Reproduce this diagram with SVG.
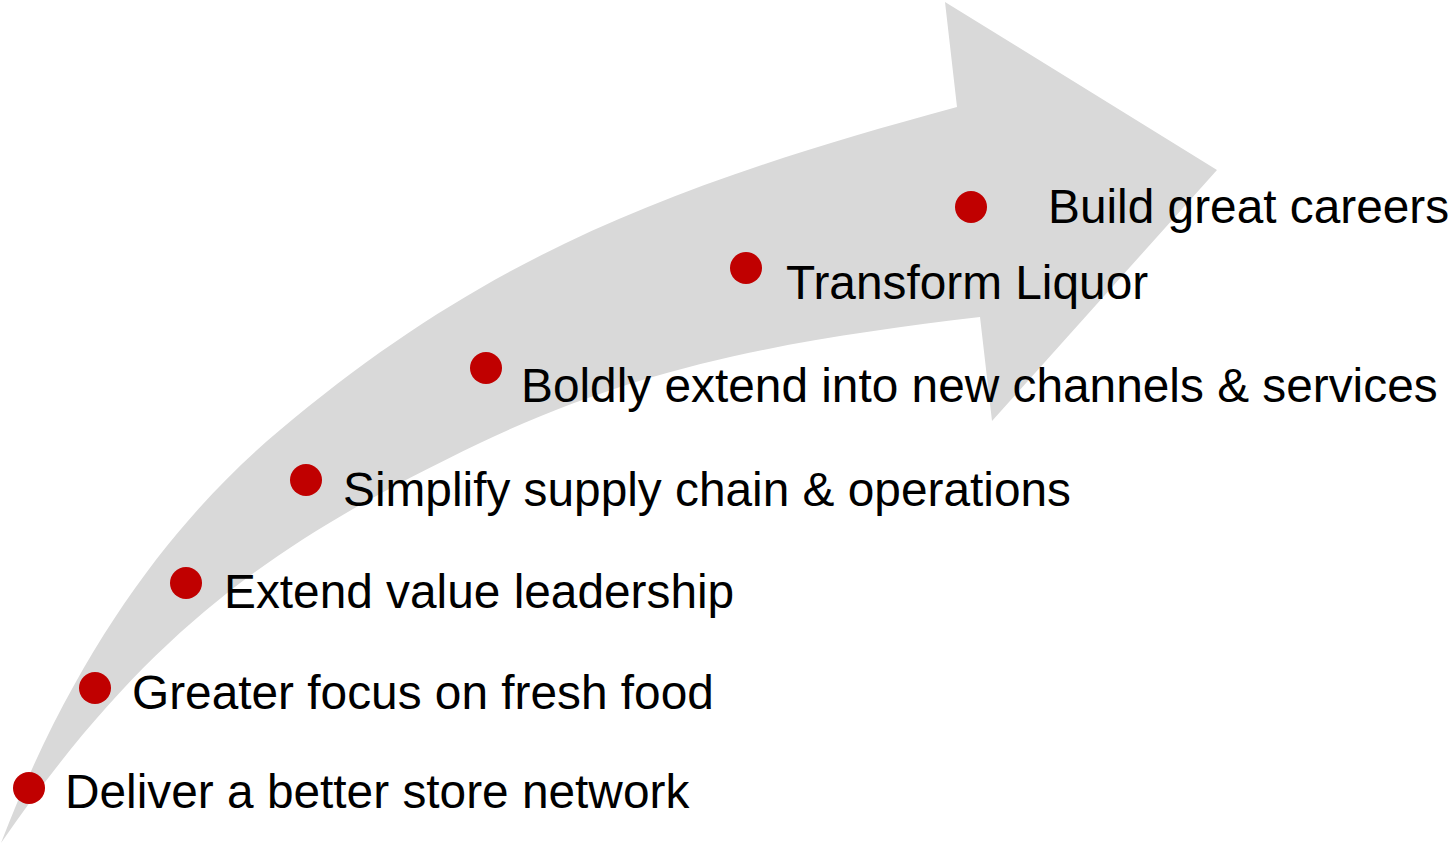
<svg xmlns="http://www.w3.org/2000/svg" width="1453" height="843" viewBox="0 0 1453 843">
<style>
.arrow{fill:#d9d9d9}
.dot{fill:#c00000}
.lbl{font-family:"Liberation Sans",Arial,sans-serif;font-size:47.8px;fill:#000}
</style>
<rect width="1453" height="843" fill="#fff"/>
<g id="arrow">
<path class="arrow" d="M 1,843 C 81,635 185,509.8 280,430 C 480,262 657,188 957,107 L 945,2 L 1217,170 L 992,421 L 980,317 C 810,337.4 650,361.4 480,443 C 280,539 151,625.5 1,843 Z"/>
</g>
<g id="n1"><circle class="dot" cx="29" cy="788" r="16"/><text class="lbl" x="65" y="808">Deliver a better store network</text></g>
<g id="n2"><circle class="dot" cx="95" cy="688" r="16"/><text class="lbl" x="132" y="709">Greater focus on fresh food</text></g>
<g id="n3"><circle class="dot" cx="186" cy="583" r="16"/><text class="lbl" x="224" y="608">Extend value leadership</text></g>
<g id="n4"><circle class="dot" cx="306" cy="480" r="16"/><text class="lbl" x="343" y="506">Simplify supply chain &amp; operations</text></g>
<g id="n5"><circle class="dot" cx="486" cy="368" r="16"/><text class="lbl" x="521" y="402">Boldly extend into new channels &amp; services</text></g>
<g id="n6"><circle class="dot" cx="746" cy="268" r="16"/><text class="lbl" x="786" y="299">Transform Liquor</text></g>
<g id="n7"><circle class="dot" cx="971" cy="207" r="16"/><text class="lbl" x="1048" y="223">Build great careers</text></g>
</svg>
